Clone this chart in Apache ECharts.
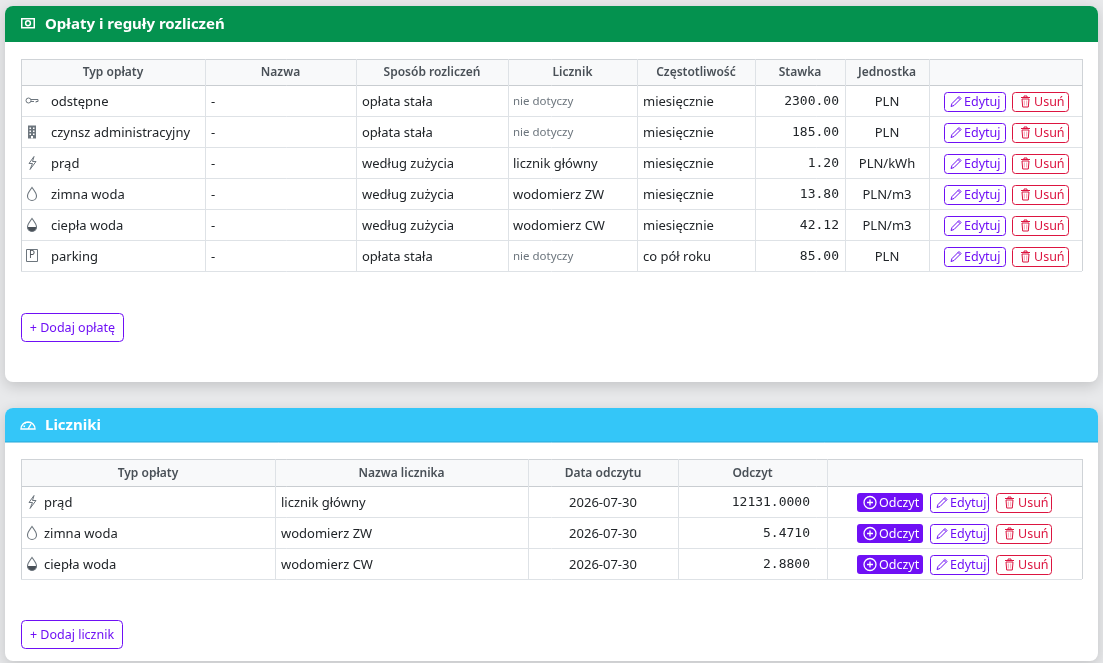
<!DOCTYPE html>
<html>
<head>
<meta charset="utf-8">
<script src="https://cdn.jsdelivr.net/npm/echarts@6/dist/echarts.min.js"></script>
<style>
    html, body { margin: 0; padding: 0; background: #e8e9eb; }
    #main { width: 1103px; height: 663px; }
</style>
</head>
<body>
<div id="main"></div>
<script type="text/javascript">
    // dane - oplaty
    var feeHeaders = ['Typ opłaty', 'Nazwa', 'Sposób rozliczeń', 'Licznik', 'Częstotliwość', 'Stawka', 'Jednostka', ''];
    var feeTypes = ['odstępne', 'czynsz administracyjny', 'prąd', 'zimna woda', 'ciepła woda', 'parking'];
    var feeIcons = ['key', 'building', 'bolt', 'drop', 'dropHalf', 'parking'];
    var feeNames = ['-', '-', '-', '-', '-', '-'];
    var feeMethods = ['opłata stała', 'opłata stała', 'według zużycia', 'według zużycia', 'według zużycia', 'opłata stała'];
    var feeMeters = [null, null, 'licznik główny', 'wodomierz ZW', 'wodomierz CW', null];
    var feeFreq = ['miesięcznie', 'miesięcznie', 'miesięcznie', 'miesięcznie', 'miesięcznie', 'co pół roku'];
    var feeRates = [2300.00, 185.00, 1.20, 13.80, 42.12, 85.00];
    var feeUnits = ['PLN', 'PLN', 'PLN/kWh', 'PLN/m3', 'PLN/m3', 'PLN'];

    // dane - liczniki
    var meterHeaders = ['Typ opłaty', 'Nazwa licznika', 'Data odczytu', 'Odczyt', ''];
    var meterTypes = ['prąd', 'zimna woda', 'ciepła woda'];
    var meterIcons = ['bolt', 'drop', 'dropHalf'];
    var meterNames = ['licznik główny', 'wodomierz ZW', 'wodomierz CW'];
    var meterDates = ['2026-07-30', '2026-07-30', '2026-07-30'];
    var meterReadings = [12131.0000, 5.4710, 2.8800];

    var FONT = '"Noto Sans", "Open Sans", sans-serif';
    var MONO = '"DejaVu Sans Mono", "Liberation Mono", monospace';
    var PURPLE = '#6f10f5';
    var RED = '#dc1540';
    var LINE = '#dee2e6';
    var ICON = '#6c757d';

    var els = [];

    function txt(x, y, s, opt) {
        opt = opt || {};
        els.push({
            type: 'text', silent: true, z: opt.z || 10,
            style: {
                x: x, y: y + 1.5, text: s,
                fill: opt.color || '#212529',
                font: (opt.weight || 'normal') + ' ' + (opt.size || 13) + 'px ' + (opt.family || FONT),
                align: opt.align || 'left', verticalAlign: 'middle'
            }
        });
    }
    function box(x, y, w, h, opt) {
        els.push({
            type: 'rect', silent: true, z: opt.z || 2,
            shape: { x: x, y: y, width: w, height: h, r: opt.r || 0 },
            style: {
                fill: opt.fill || 'none', stroke: opt.stroke || null, lineWidth: opt.lw || 1,
                shadowBlur: opt.blur || 0, shadowColor: opt.shadow || 'transparent', shadowOffsetY: opt.offY || 0
            }
        });
    }
    function line(x1, y1, x2, y2, color) {
        els.push({ type: 'line', silent: true, z: 4, shape: { x1: x1, y1: y1, x2: x2, y2: y2 }, style: { stroke: color || LINE, lineWidth: 1 } });
    }
    // sciezki svg rejestrowane jako wlasne ksztalty
    var shapeIds = {};
    var shapeCount = 0;
    function path(d, x, y, opt) {
        if (!shapeIds[d]) {
            shapeIds[d] = 'ico' + (shapeCount++);
            echarts.graphic.registerShape(shapeIds[d], echarts.graphic.extendPath(d, {}));
        }
        els.push({
            type: shapeIds[d], silent: true, z: 6, x: x, y: y,
            style: { fill: opt.fill || 'none', stroke: opt.stroke || null, lineWidth: opt.lw || 1 }
        });
    }

    // ikony typow oplat
    function icon(kind, cx, cy) {
        var x = cx - 6, y = cy - 7;
        if (kind === 'key') {
            path('M1,7 A2.5,2.5 0 1 0 6,7 A2.5,2.5 0 1 0 1,7 Z M6,6 L13,6 L13,8 L11,8 L11,9 M6,8 L9,8', x - 1, y, { stroke: ICON, lw: 1 });
        } else if (kind === 'building') {
            path('M2,1 L10,1 L10,14 L2,14 Z', x, y, { fill: ICON });
            path('M3.5,3 h1.5 v1.5 h-1.5 Z M7,3 h1.5 v1.5 h-1.5 Z M3.5,6 h1.5 v1.5 h-1.5 Z M7,6 h1.5 v1.5 h-1.5 Z M3.5,9 h1.5 v1.5 h-1.5 Z M7,9 h1.5 v1.5 h-1.5 Z M5,11.5 h2 v2.5 h-2 Z', x, y, { fill: '#fff' });
        } else if (kind === 'bolt') {
            path('M8,1 L3,8 L6.5,8 L4,14 L10,6 L6.5,6 Z', x, y, { stroke: ICON, lw: 1 });
        } else if (kind === 'drop' || kind === 'dropHalf') {
            var d = 'M6,1 C4,4 1.5,6.5 1.5,9.5 A4.5,4.5 0 0 0 10.5,9.5 C10.5,6.5 8,4 6,1 Z';
            if (kind === 'dropHalf') {
                path('M1.5,9.5 A4.5,4.5 0 0 0 10.5,9.5 Z', x, y, { fill: '#495057' });
            }
            path(d, x, y, { stroke: ICON, lw: 1.1 });
        } else if (kind === 'parking') {
            path('M0.5,1 L11.5,1 L11.5,13 L0.5,13 Z', x, y, { stroke: ICON, lw: 1 });
            txt(cx, cy - 1.5, 'P', { size: 10, color: '#495057', align: 'center' });
        }
    }

    // przyciski
    function button(x, y, w, label, kind) {
        var h = 19, cy = y + h / 2;
        if (kind === 'read') {
            box(x, y, w, h, { fill: PURPLE, r: 3, z: 5 });
            path('M0,6 A6,6 0 1 0 12,6 A6,6 0 1 0 0,6 Z M6,3 L6,9 M3,6 L9,6', x + 7, cy - 6, { stroke: '#fff', lw: 1.3 });
            txt(x + 22, cy - 0.5, label, { color: '#fff', size: 12.5 });
        } else if (kind === 'edit') {
            box(x + 0.5, y + 0.5, w, h, { stroke: PURPLE, r: 3, z: 5 });
            path('M1,11 L2,8 L9,1 L11,3 L4,10 Z M8,2 L10,4', x + 6, cy - 6, { stroke: PURPLE, lw: 1 });
            txt(x + 20, cy - 0.5, label, { color: PURPLE, size: 12.5 });
        } else {
            box(x + 0.5, y + 0.5, w, h, { stroke: RED, r: 3, z: 5 });
            path('M1,2.5 L10,2.5 M4,2.5 L4,1 L7,1 L7,2.5 M2,4 L9,4 L8.3,12 L2.7,12 Z', x + 8, cy - 6.5, { stroke: RED, lw: 1 });
            path('M4.3,5.5 L4.3,10.5 M6.7,5.5 L6.7,10.5', x + 8, cy - 6.5, { stroke: '#f4a0b0', lw: 1 });
            txt(x + 22, cy - 0.5, label, { color: RED, size: 12.5 });
        }
    }

    // karta z naglowkiem
    function card(y, h, headH, color, title, iconKind) {
        box(5, y, 1093, h, { fill: '#fff', r: 8, z: 1, blur: 14, shadow: 'rgba(0,0,0,0.16)', offY: 4 });
        box(5, y, 1093, headH, { fill: color, r: [8, 8, 0, 0], z: 2 });
        txt(45, y + headH / 2 - 1, title, { color: '#fff', weight: 'bold', size: 15 });
        if (iconKind === 'cash') {
            path('M0.75,0.75 L13.25,0.75 L13.25,9.75 L0.75,9.75 Z', 21, y + headH / 2 - 6, { stroke: '#fff', lw: 1.5 });
            path('M4.6,5.25 A2.4,2.4 0 1 0 9.4,5.25 A2.4,2.4 0 1 0 4.6,5.25 Z', 21, y + headH / 2 - 6, { stroke: '#fff', lw: 1.5 });
        } else {
            path('M1,11 A7,7 0 1 1 15,11 L1,11 Z M8,11 L11,6 M3.5,8 L5,8.5 M5,4.5 L6,5.5 M8,3.5 L8,5', 20, y + headH / 2 - 7, { stroke: '#fff', lw: 1.4 });
        }
    }

    function table(cols, top, headH, rowH, headers, nRows, cellFn) {
        var left = cols[0], right = cols[cols.length - 1];
        var bottom = top + headH + nRows * rowH;
        box(left, top, right - left, headH, { fill: '#f8f9fa', z: 3 });
        headers.forEach(function (hd, i) {
            txt((cols[i] + cols[i + 1]) / 2, top + headH / 2 - 0.5, hd, { color: '#495057', weight: '600', size: 12, align: 'center' });
        });
        for (var r = 0; r <= nRows; r++) {
            var yy = top + headH + r * rowH + 0.5;
            line(left, yy, right, yy, r === 0 ? '#c9cdd1' : LINE);
        }
        line(left, top + 0.5, right, top + 0.5, '#cfd3d7');
        cols.forEach(function (c, i) {
            line(c + 0.5, top, c + 0.5, bottom, (i === 0 || i === cols.length - 1) ? '#cfd3d7' : LINE);
        });
        for (var k = 0; k < nRows; k++) {
            cellFn(k, top + headH + k * rowH + rowH / 2, top + headH + k * rowH);
        }
    }

    // --- Oplaty i reguly rozliczen ---
    card(6, 376, 36, '#04924f', 'Opłaty i reguły rozliczeń', 'cash');
    var feeCols = [21, 205, 356, 508, 637, 755, 845, 929, 1082];
    table(feeCols, 59, 26, 31, feeHeaders, feeTypes.length, function (i, cy, ry) {
        icon(feeIcons[i], 32, cy);
        txt(51, cy, feeTypes[i]);
        txt(211, cy, feeNames[i]);
        txt(362, cy, feeMethods[i]);
        if (feeMeters[i]) txt(513, cy, feeMeters[i]);
        else txt(513, cy, 'nie dotyczy', { color: '#6c757d', size: 11.5 });
        txt(643, cy, feeFreq[i]);
        txt(839, cy, feeRates[i].toFixed(2), { family: MONO, align: 'right', size: 13 });
        txt(887, cy, feeUnits[i], { align: 'center' });
        button(944, ry + 7, 61, 'Edytuj', 'edit');
        button(1012, ry + 7, 56, 'Usuń', 'del');
    });
    box(21.5, 313.5, 102, 28, { stroke: PURPLE, r: 4, z: 5 });
    txt(72.5, 327, '+ Dodaj opłatę', { color: PURPLE, size: 12.5, align: 'center' });

    // --- Liczniki ---
    card(408, 253, 34, '#34c6f8', 'Liczniki', 'gauge');
    line(5, 442, 1098, 442, '#27a6d6');
    var meterCols = [21, 275, 528, 678, 827, 1082];
    table(meterCols, 459, 27, 31, meterHeaders, meterTypes.length, function (i, cy, ry) {
        icon(meterIcons[i], 32, cy);
        txt(44, cy, meterTypes[i]);
        txt(281, cy, meterNames[i]);
        txt(603, cy, meterDates[i], { align: 'center' });
        txt(810, cy, meterReadings[i].toFixed(4), { family: MONO, align: 'right', size: 13 });
        button(857, ry + 7, 66, 'Odczyt', 'read');
        button(930, ry + 7, 58, 'Edytuj', 'edit');
        button(996, ry + 7, 55, 'Usuń', 'del');
    });
    box(21.5, 620.5, 101, 28, { stroke: PURPLE, r: 4, z: 5 });
    txt(72, 634, '+ Dodaj licznik', { color: PURPLE, size: 12.5, align: 'center' });

    var myChart = echarts.init(document.getElementById('main'), null, { renderer: 'canvas' });
    myChart.setOption({
        backgroundColor: '#e8e9eb',
        animation: false,
        graphic: { elements: els }
    });
</script>
</body>
</html>
